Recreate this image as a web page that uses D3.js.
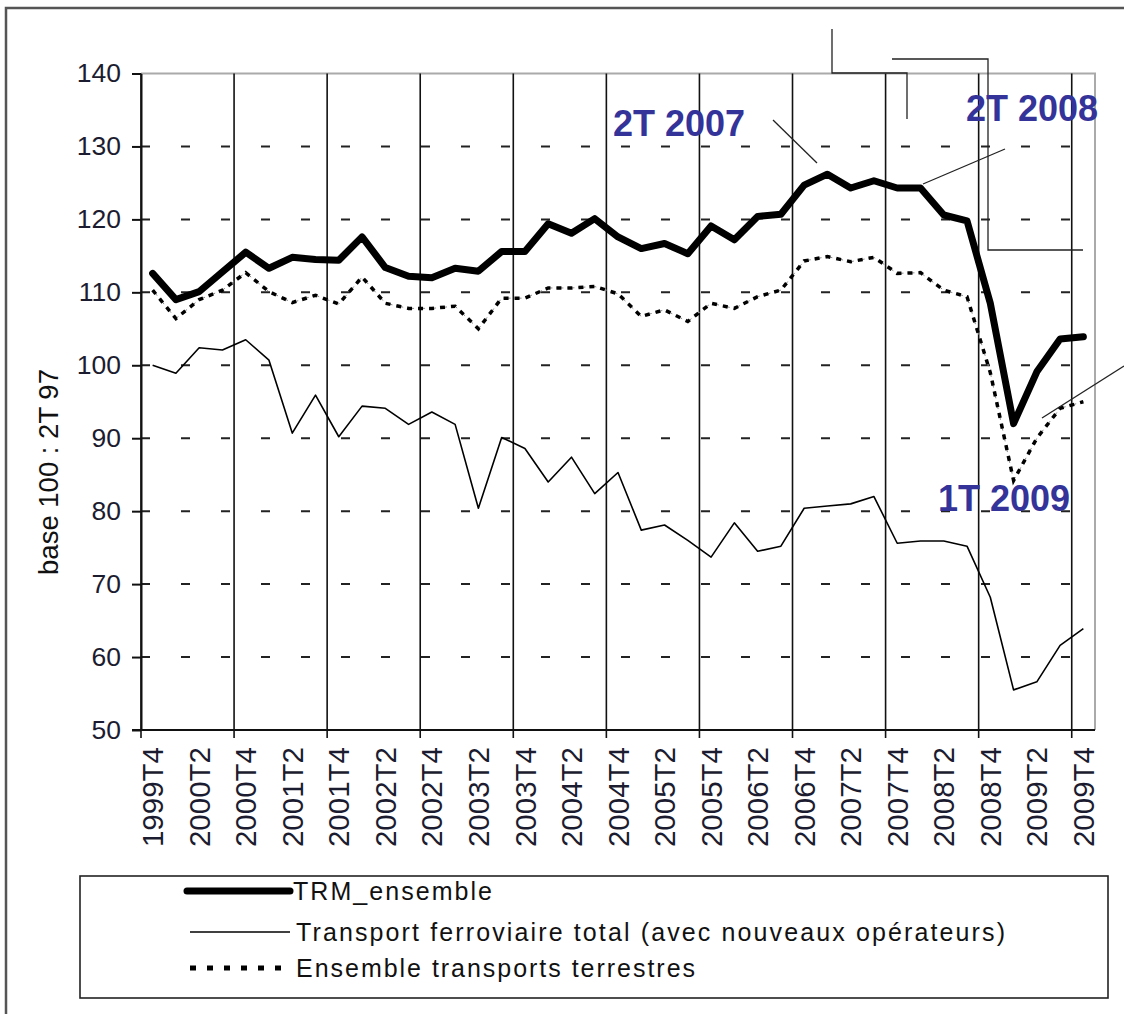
<!DOCTYPE html>
<html>
<head>
<meta charset="utf-8">
<script src="https://cdn.jsdelivr.net/npm/d3@7"></script>
<style>
  body { margin: 0; background: #fff; }
  svg { display: block; }
</style>
</head>
<body>
<svg id="chart" width="1124" height="1014"></svg>
<script>
// quarters on the x axis
var quarters = ["1999T4","2000T1","2000T2","2000T3","2000T4","2001T1","2001T2","2001T3","2001T4",
  "2002T1","2002T2","2002T3","2002T4","2003T1","2003T2","2003T3","2003T4","2004T1","2004T2","2004T3","2004T4",
  "2005T1","2005T2","2005T3","2005T4","2006T1","2006T2","2006T3","2006T4","2007T1","2007T2","2007T3","2007T4",
  "2008T1","2008T2","2008T3","2008T4","2009T1","2009T2","2009T3","2009T4"];

var trmEnsemble = [112.6,109.0,110.1,112.8,115.5,113.3,114.8,114.5,114.4,117.6,113.4,112.2,112.0,113.3,112.9,115.6,
  115.6,119.4,118.1,120.1,117.6,116.0,116.7,115.3,119.1,117.2,120.4,120.7,124.7,126.2,124.3,125.3,124.3,124.3,120.6,
  119.8,108.5,92.0,99.1,103.6,103.9];

var ferroviaire = [100.0,98.9,102.4,102.1,103.5,100.7,90.7,95.9,90.2,94.4,94.1,91.9,93.6,91.9,80.4,90.1,88.6,84.0,
  87.4,82.4,85.3,77.4,78.1,76.0,73.7,78.4,74.5,75.2,80.4,80.7,81.0,82.0,75.6,75.9,75.9,75.2,68.2,55.5,56.6,61.6,63.9];

var terrestres = [110.3,106.4,109.0,110.3,112.7,110.1,108.6,109.6,108.4,112.1,108.5,107.8,107.8,108.1,105.0,109.2,
  109.2,110.6,110.6,110.8,109.8,106.7,107.6,106.0,108.5,107.8,109.4,110.3,114.3,114.9,114.2,114.8,112.6,112.7,110.3,
  109.4,99.0,84.2,90.0,94.1,95.0];

var yTicks = [50,60,70,80,90,100,110,120,130,140];
var seriesNames = ["TRM_ensemble", "Transport ferroviaire total (avec nouveaux opérateurs)", "Ensemble transports terrestres"];
var yTitle = "base 100 : 2T 97";
var callouts = ["2T 2007", "2T 2008", "1T 2009"];

function draw() {
  var svg = d3.select("#chart");
  var pLeft = 141, pRight = 1095, pTop = 73.5, pBottom = 730;
  var font = "Liberation Sans, Arial, sans-serif";

  var x = d3.scaleBand().domain(quarters).range([pLeft, pRight]);
  var y = d3.scaleLinear().domain([50,140]).range([pBottom, pTop]);
  var cx = function(q) { return x(q) + x.bandwidth()/2; };

  // outer frame
  svg.append("rect").attr("x",6).attr("y",8).attr("width",1200).attr("height",1100)
    .attr("fill","none").attr("stroke","#555").attr("stroke-width",2.5);

  // plot border (top/right grey)
  svg.append("path")
    .attr("d","M"+pLeft+","+pTop+"H"+pRight+"V"+pBottom)
    .attr("fill","none").attr("stroke","#aaa").attr("stroke-width",2);

  // horizontal dashed grid
  svg.append("g").selectAll("line").data(yTicks.filter(function(d){ return d>50 && d<140; })).enter().append("line")
    .attr("x1",pLeft).attr("x2",pRight-8)
    .attr("y1",function(d){ return y(d); }).attr("y2",function(d){ return y(d); })
    .attr("stroke","#222").attr("stroke-width",2).attr("stroke-dasharray","9,31");

  // vertical grid lines at year boundaries
  var yearStarts = quarters.filter(function(q,i){ return i%4==0; });
  svg.append("g").selectAll("line").data(yearStarts).enter().append("line")
    .attr("x1",function(d){ return x(d); }).attr("x2",function(d){ return x(d); })
    .attr("y1",pTop).attr("y2",pBottom+8)
    .attr("stroke","#111").attr("stroke-width",1.6);

  // y axis
  var yAxis = svg.append("g").attr("transform","translate("+pLeft+",0)")
    .call(d3.axisLeft(y).tickValues(yTicks).tickSize(9).tickPadding(11).tickSizeOuter(0));
  yAxis.select(".domain").attr("stroke","#111").attr("stroke-width",2);
  yAxis.selectAll(".tick line").attr("stroke","#111").attr("stroke-width",2);
  yAxis.selectAll("text").attr("font-family",font)
    .attr("font-size",26.5).attr("fill","#1c1c30");

  // x axis line
  svg.append("line").attr("x1",pLeft-9).attr("x2",pRight).attr("y1",pBottom).attr("y2",pBottom)
    .attr("stroke","#111").attr("stroke-width",2);

  // x labels
  svg.append("g").selectAll("text").data(quarters.filter(function(q,i){ return i%2==0; })).enter().append("text")
    .attr("transform",function(d){ return "translate("+(cx(d))+",747) rotate(-90)"; })
    .attr("text-anchor","end").attr("dy","0.36em")
    .attr("font-family",font).attr("font-size",29.5).attr("fill","#1c1c30")
    .text(function(d){ return d; });

  // y title
  svg.append("text").attr("transform","translate(48,472) rotate(-90)")
    .attr("text-anchor","middle").attr("dy","0.35em")
    .attr("font-family",font).attr("font-size",27.5).attr("fill","#111")
    .text(yTitle);

  var line = function(vals) {
    return d3.line().x(function(d,i){ return cx(quarters[i]); }).y(function(d){ return y(d); })(vals);
  };

  // series
  svg.append("path").attr("d",line(terrestres)).attr("fill","none")
    .attr("stroke","#888").attr("stroke-width",1).attr("stroke-dasharray","7,4");
  svg.append("path").attr("d",line(terrestres)).attr("fill","none")
    .attr("stroke","#000").attr("stroke-width",3.5).attr("stroke-dasharray","5,6");
  svg.append("path").attr("d",line(ferroviaire)).attr("fill","none")
    .attr("stroke","#000").attr("stroke-width",1.6).attr("stroke-linejoin","round");
  svg.append("path").attr("d",line(trmEnsemble)).attr("fill","none")
    .attr("stroke","#000").attr("stroke-width",7).attr("stroke-linejoin","round").attr("stroke-linecap","round");

  // callout connector shapes and leader lines
  var thin = function(d) {
    svg.append("path").attr("d",d).attr("fill","none").attr("stroke","#222").attr("stroke-width",1.3);
  };
  thin("M832,29V73H907V119");
  thin("M892,59H988V250H1083");
  thin("M773,120L817,163");
  thin("M923,184L1005,149");
  thin("M1042,418L1124,366");

  var calloutPos = [[613,136],[966,121],[938,511]];
  svg.append("g").selectAll("text").data(callouts).enter().append("text")
    .attr("x",function(d,i){ return calloutPos[i][0]; }).attr("y",function(d,i){ return calloutPos[i][1]; })
    .attr("font-family",font).attr("font-weight","bold")
    .attr("font-size",36).attr("fill","#333399")
    .text(function(d){ return d; });

  // legend
  svg.append("rect").attr("x",80).attr("y",876).attr("width",1028).attr("height",122)
    .attr("fill","none").attr("stroke","#222").attr("stroke-width",1.6);
  var legendRows = [
    {y:891, w:7, dash:null, x1:187, x2:290, tl:199},
    {y:932, w:1.6, dash:null, x1:190, x2:290, tl:709},
    {y:968, w:5, dash:"6,11", x1:190, x2:290, tl:399}
  ];
  legendRows.forEach(function(r,i){
    svg.append("line").attr("x1",r.x1).attr("x2",r.x2).attr("y1",r.y).attr("y2",r.y)
      .attr("stroke","#000").attr("stroke-width",r.w)
      .attr("stroke-linecap", i==0 ? "round" : "butt")
      .attr("stroke-dasharray",r.dash);
    svg.append("text").attr("x",i==0 ? 293 : 296).attr("y",r.y).attr("dy","0.36em")
      .attr("font-family","Liberation Sans Narrow, Arial Narrow, Liberation Sans, sans-serif")
      .attr("font-size",25).attr("fill","#111")
      .attr("textLength",r.tl).attr("lengthAdjust","spacing")
      .text(seriesNames[i]);
  });
}
draw();
</script>
</body>
</html>
